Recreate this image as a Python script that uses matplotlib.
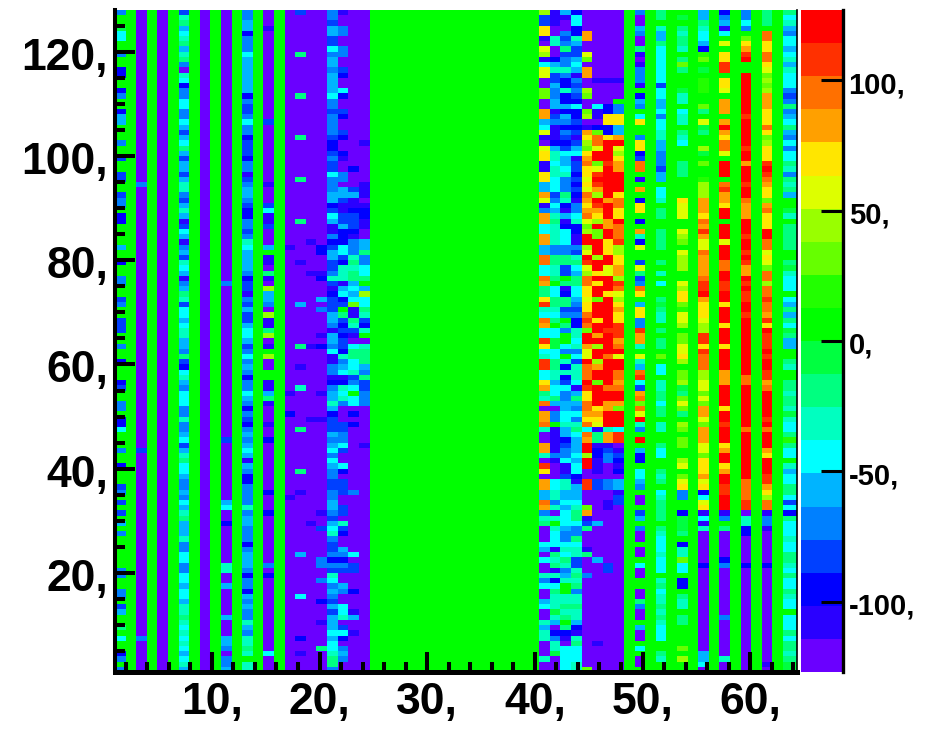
#! /usr/bin/python3

import numpy as np
import matplotlib
matplotlib.use('Agg')
import matplotlib.pyplot as plt
from matplotlib.colors import ListedColormap, BoundaryNorm
from matplotlib.ticker import MultipleLocator
from matplotlib.transforms import ScaledTranslation

# palette of the z axis, bottom to top
palette = ['#6A00FF', '#2A00FF', '#0000FF', '#0040FF', '#0080FF', '#00B4FF', '#00FFFF',
           '#00FFC0', '#00FF80', '#00FF40', '#00FF00', '#22FF00', '#66FF00', '#99FF00',
           '#DDFF00', '#FFE600', '#FFA000', '#FF7000', '#FF3000', '#FF0000']
zMin, zMax = -127.0, 127.0
zTicks = [-100, -50, 0, 50, 100]
xMajor = [10, 20, 30, 40, 50, 60]
yMajor = [20, 40, 60, 80, 100, 120]
nRows = 127
nCols = 64

# one string per column, read from the top row down, one character per cell,
# base 36 digit = colour level of the palette (0 violet ... a green ... j red)
G = 'a' * 127
V = '0' * 127
Z = '0' * 10

col_00 = ['4aa966aa4a', 'a22aa24aa2', '55aaa4aa3a', 'a33aa344a2', '2aaaa5aa2a', 'a44aa34aa3', '33aa4aa2aa',
          'a23aa44a22', '6aaa4aa2aa', 'a34a3a3a5a', '4aaaaaa44a', 'a44a35aa8a', '6aa24a4']
col_02 = [Z, Z, Z, '0004000000', Z, Z, Z, Z, '0000300000', Z, Z, Z, '4000000']
col_06 = ['3785678578', '4076244664', '4653568535', '5357743575', '1365145376', '5145873665', '6775548326',
          '7546664474', '4563578665', '4454657855', '5744664466', '5665778767', '6765675']
col_10 = [Z, Z, Z, Z, Z, '0040000000', Z, Z, '0030000000', '0000560020', '0000007700', '5000005000', '5540445']
col_12 = ['4455244465', '5555552433', '4644233324', '4134554322', '4434765555', '4233143533', '5665346454',
          '2446542432', '4545651542', '2444474554', '4424555424', '4254544754', '7787a77']
col_14 = ['0001000000', Z, '0300000000', '0001000361', '130005a110', '810d5540d1', '18d01ad00a',
          'a115810001', '0020000000', '0020002000', '0000004020', Z, '0006000']
col_16 = [Z, Z, Z, Z, '0000010000', Z, Z, '0001000200', Z, '0001000000', Z, Z, '0000000']
col_17 = ['3000000080', '0000008000', '0000800000', '0080000000', '8000000010', '0000005000', '0000800010',
          '0070000000', '8000000080', '0010000000', '0000500000', '0060000000', '2001000']
col_18 = [Z, Z, Z, Z, '0000100000', '1000000000', '0000100000', '0000000010', Z, '0000000010', Z, Z, '0000000']
col_19 = [Z, Z, Z, Z, '0000022000', '1200050400', '0010200000', '0001000010', Z, '0000001003',
          '0000044004', '0002000100', '0080000']
col_20 = ['4435533645', '5455556443', '4444322343', '3644455236', '5114235533', '4731233355', '4155461144',
          '1245575233', '3545646544', '3344554356', '7433424376', '4543535556', '5667884']
col_21 = ['1004400440', '0320062003', '2003200210', '0440553113', '3522266327', '7715623a83', '2323327456',
          '1276740003', '3446300620', '3330033073', '2005424300', '5400667036', '2045400']
col_22 = [Z, Z, Z, '2000351123', '3321444787', '885656c118', '7310688667', '346a660202', Z, '0040000000',
          '0000603300', '0200015001', '0000000']
col_23 = [Z, Z, '0000010000', '0001110122', '1100558446', '68a5d66873', '27a0788854', '8334440000',
          '0001000000', Z, Z, Z, '0000000']
col_40 = ['d33ff10ed1', '6ee00cc00g', 'g56e10eff1', '1ff55ge14g', 'g66gg55hh6', '6hg88fi76h', 'g66if67ii6',
          '6fg87h0ggh', '700gg70if0', 'gg55hg4780', '0065060074', '6005600757', '7000700']
col_41 = ['1110077002', '5733544551', '3411125776', '7766634657', '8777744887', '78a6688768', 'a669966887',
          '756685044a', '1111141000', '66774707a7', '6661878172', '6877797502', '4779000']
col_42 = ['5100434834', '4742272252', '5424323655', '6744487215', '1266644883', '3a8128834a', '84aa64a727',
          '2364455667', '5523446113', '7755656665', '4467687457', 'aa77878a82', '1066666']
col_43 = ['2662275335', '6514343262', '2323135613', '3232321446', '7221143786', '5886654342', '2776746377',
          '7615854647', '8655565662', '1555678864', '4867733787', '8477877521', '7866677']
col_44 = ['0000gg00ec', '0gg00dc00c', 'd01gfdcfgh', 'ffefehgfgh', 'ecdjjdejie', 'dhhffeffhi', 'hcjjgeejhh',
          'hjiffhhgfh', '6hgjjdjj00', 'ii000cg138', '0001800040', Z, '000000c']
col_45 = [Z, '0001000061', '102chhejjc', 'eijigdjigf', 'djccjjjdjj', 'fjfjjcjjjf', 'jjgjdjjdgj',
          'jcjjjjfgfe', '1881221110', '3300000050', '0000050000', Z, '0100000']
col_46 = [Z, '0001000022', 'ff22fjjjji', 'jjjjjjgjjj', 'ggjjfffjje', 'ejjjfjjjjj', 'jijjjjhjjj',
          'jjhjjggjjj', '7gg1344000', '4400110000', '0000003300', Z, '0000000']
col_47 = [Z, '0001000a44', 'ff55gjedfg', 'gjjjjfhhff', 'jhhhiddffg', 'gdihedfgff', 'iiighjejjh',
          'hghjjgcjjj', '6ii0132120', '5513300000', Z, Z, '0000000']
col_49 = ['4005400810', '14441a254a', '6faa4ff23h', 'ha1aga2ffa', '2ag72eaa3e', '834hfa5ff4', '4igg7ae75h',
          'i63ghchej7', '4aja522a66', '54a00a35a4', '00a00a600a', 'a008400a50', '0a6a00a']
col_51 = ['88a7558666', '6666366556', '4667755444', '355a667a88', 'aa8888aa8a', '7a6aa89877', 'a8a88aca66',
          'a7788688a7', '7aa866aa87', '8a678888a8', '76667666a7', '8677878766', '6aa87aa']
col_53 = ['a9a87887a8', 'c8aaa977a6', '77a876aaa8', '88aaaafeee', 'aaedcaeddd', 'aaedffcbee', 'dacceefdac',
          'cd98cec8ad', 'caccaadeac', 'ef44aa2999', '8a277c66a2', '2a877a88aa', 'aacadaa']
col_55 = ['55876652bc', 'a9abbbaac8', 'ae98aad9ac', 'aabdddgggf', 'hgigeehggg', 'ghiijgfffe', 'ddiifihhhd',
          'deececggec', 'gggeecfffg', 'ef26ef1617', '0000002000', Z, '0005560']
col_57 = ['24516aeaff', 'iiaffeaggg', 'agjgfhheaj', 'jjahiggfjj', 'ajjjejjjhh', 'jjiijjfjjj', 'fjjjfjjjjg',
          'ggjjjjfjji', 'jjjfgjjfgj', 'jiijjj14a8', '0000024000', '0000004000', '0000700']
col_59 = ['4464acfgij', 'aajjjjjjjj', 'ijjjjjijjg', 'jjjijjhggg', 'jjjijjijig', 'gjijiijjij', 'jjjjjjjjjj',
          'hhjjjjjjjj', 'hjjjjjjjjj', 'hhhhii0772', '2000002000', Z, '0000000']
col_61 = ['888ahhffhh', 'fecdcdgggf', 'ffhfcdfffi', 'jihgffcghf', 'ffjjhhefec', 'hhdhhihhgi', 'fjiiijijji',
          'ighjjjjjij', 'hjjjgfjjji', 'igfdhh1441', '0000002000', Z, '0000010']
col_63 = ['8675466567', '5766643484', '5685464668', '748785aa97', 'a88888aa89', '7666a65858', '69855aa87a',
          'a887887976', '68b866a756', '6886362866', '6766887686', '68766a6668', '6887899']

noisyCols = {0: col_00, 2: col_02, 6: col_06, 10: col_10, 12: col_12, 14: col_14, 16: col_16, 17: col_17,
             18: col_18, 19: col_19, 20: col_20, 21: col_21, 22: col_22, 23: col_23, 40: col_40, 41: col_41,
             42: col_42, 43: col_43, 44: col_44, 45: col_45, 46: col_46, 47: col_47, 49: col_49, 51: col_51,
             53: col_53, 55: col_55, 57: col_57, 59: col_59, 61: col_61, 63: col_63}
violetCols = [4, 8]


def levelToValue(level):
    step = (zMax - zMin) / len(palette)
    return zMin + step * (level + 0.5)


def buildMatrix():
    matrix = np.zeros((nRows, nCols))
    for k in range(nCols):
        if k in noisyCols:
            text = ''.join(noisyCols[k])
        elif k in violetCols:
            text = V
        else:
            text = G
        assert len(text) == nRows, (k, len(text))
        matrix[:, k] = [levelToValue(int(c, 36)) for c in text]
    return matrix[::-1]


def shiftLabels(fig, labels, dyPixels):
    # move tick labels down by a few pixels
    offset = ScaledTranslation(0, -dyPixels / fig.dpi, fig.dpi_scale_trans)
    for label in labels:
        label.set_transform(label.get_transform() + offset)


def main():
    plt.rcParams['font.family'] = ['Liberation Sans', 'DejaVu Sans']
    plt.rcParams['font.weight'] = 'bold'
    W, H = 931.0, 729.0
    fig = plt.figure(figsize=(W / 100, H / 100), dpi=100)

    cmap = ListedColormap(palette)
    bounds = np.linspace(zMin, zMax, len(palette) + 1)
    norm = BoundaryNorm(bounds, cmap.N)

    ##############################
    # Main panel:
    ax = fig.add_axes([115 / W, (H - 672) / H, 681.5 / W, 662 / H])
    xEdges = np.append(1 + 0.985 * np.arange(nCols), 64.3)
    yEdges = np.arange(1, nRows + 2)
    ax.pcolormesh(xEdges, yEdges, buildMatrix(), cmap=cmap, norm=norm, linewidth=0, rasterized=True)
    ax.set_xlim(1, 64.3)
    ax.set_ylim(1, 128)
    ax.set_xticks(xMajor)
    ax.set_xticklabels(['%d,' % v for v in xMajor], fontsize=32)
    ax.set_yticks(yMajor)
    ax.set_yticklabels(['%d,' % v for v in yMajor], fontsize=32, va='baseline')
    ax.xaxis.set_minor_locator(MultipleLocator(2))
    ax.yaxis.set_minor_locator(MultipleLocator(5))
    ax.tick_params(which='major', direction='in', length=14.5, width=2.9)
    ax.tick_params(which='minor', direction='in', length=7.5, width=2.9)
    ax.tick_params(axis='x', which='major', pad=7)
    ax.tick_params(axis='y', which='major', pad=5)
    shiftLabels(fig, ax.get_yticklabels(), 18)
    ax.spines['top'].set_visible(False)
    ax.spines['left'].set_linewidth(2.9)
    ax.spines['bottom'].set_linewidth(3.6)
    ax.spines['right'].set_linewidth(1.2)

    ##############################
    # Palette on the right:
    cax = fig.add_axes([801 / W, (H - 672) / H, 42 / W, 662 / H])
    cax.pcolormesh([0, 1], bounds, np.array([levelToValue(i) for i in range(len(palette))]).reshape(-1, 1),
                   cmap=cmap, norm=norm, linewidth=0)
    cax.set_xticks([])
    cax.yaxis.tick_right()
    cax.set_yticks(zTicks)
    cax.set_yticklabels(['%d,' % v for v in zTicks], fontsize=21)
    cax.tick_params(axis='y', direction='in', length=16, width=2.2, pad=4)
    shiftLabels(fig, cax.get_yticklabels(), 2)
    for side in ['top', 'left', 'bottom']:
        cax.spines[side].set_visible(False)
    cax.spines['right'].set_linewidth(2.4)

    plt.savefig('out.png', dpi=100)


if __name__ == '__main__':
    main()
